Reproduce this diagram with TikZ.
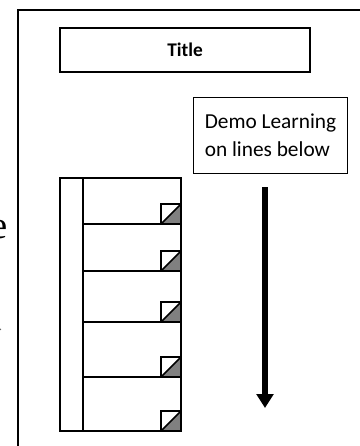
\documentclass[tikz,border=0pt]{standalone}
\usepackage{fontspec}
\setmainfont{Carlito}
\newfontfamily\serifside{Liberation Serif}
\usetikzlibrary{arrows.meta}
\tikzset{
  frameline/.style={line width=1.5pt},
  titlebox/.style={draw, line width=1.5pt, minimum width=187.5pt, minimum height=33pt, font=\fontsize{14.5}{17}\selectfont\bfseries},
  notebox/.style={draw, line width=0.75pt, minimum width=116pt, minimum height=57.5pt, align=left, font=\fontsize{16}{21}\selectfont, inner sep=0pt},
  stackline/.style={line width=1.1pt},
  foldgrey/.style={fill=black!50},
  bigarrow/.style={line width=4.5pt, -{Triangle[width=12.5pt,length=10.5pt]}},
}
\begin{document}
\begin{tikzpicture}[x=0.75pt,y=-0.75pt]
\useasboundingbox (0,0) rectangle (360,446);
\clip (0,0) rectangle (360,446);
\fill[white] (0,0) rectangle (360,446);
% side text fragments
\node[anchor=base east, inner sep=0pt, font=\serifside\fontsize{29}{30}\selectfont] (sidee) at (8,238) {e};
\node[anchor=base east, inner sep=0pt, font=\serifside\fontsize{10}{12}\selectfont, text=black!60] (sidedot) at (2.5,330) {.};
% outer frame (open to the right and bottom)
\draw[frameline] (18,470) -- (18,10) -- (380,10);
% title
\node[titlebox] (title) at (185,50) {Title};
% note
\node[notebox] (note) at (270.5,135.5) {Demo Learning\\on lines below};
% arrow
\coordinate (arrtop) at (265,187);
\coordinate (arrbot) at (265,408);
\draw[bigarrow] (arrtop) -- (arrbot);
% stack spine
\draw[stackline] (60,178) rectangle (83,431);
% rows
\foreach \t/\b in {178/224,224/271,271/322,322/377,377/431}{
  \draw[stackline] (83,\t) rectangle (181,\b);
  \fill[foldgrey] (161,\b) -- (181,\b-20) -- (181,\b) -- cycle;
  \draw[stackline] (161,\b) rectangle (181,\b-20);
  \draw[stackline] (161,\b) -- (181,\b-20);
}
\end{tikzpicture}
\end{document}
